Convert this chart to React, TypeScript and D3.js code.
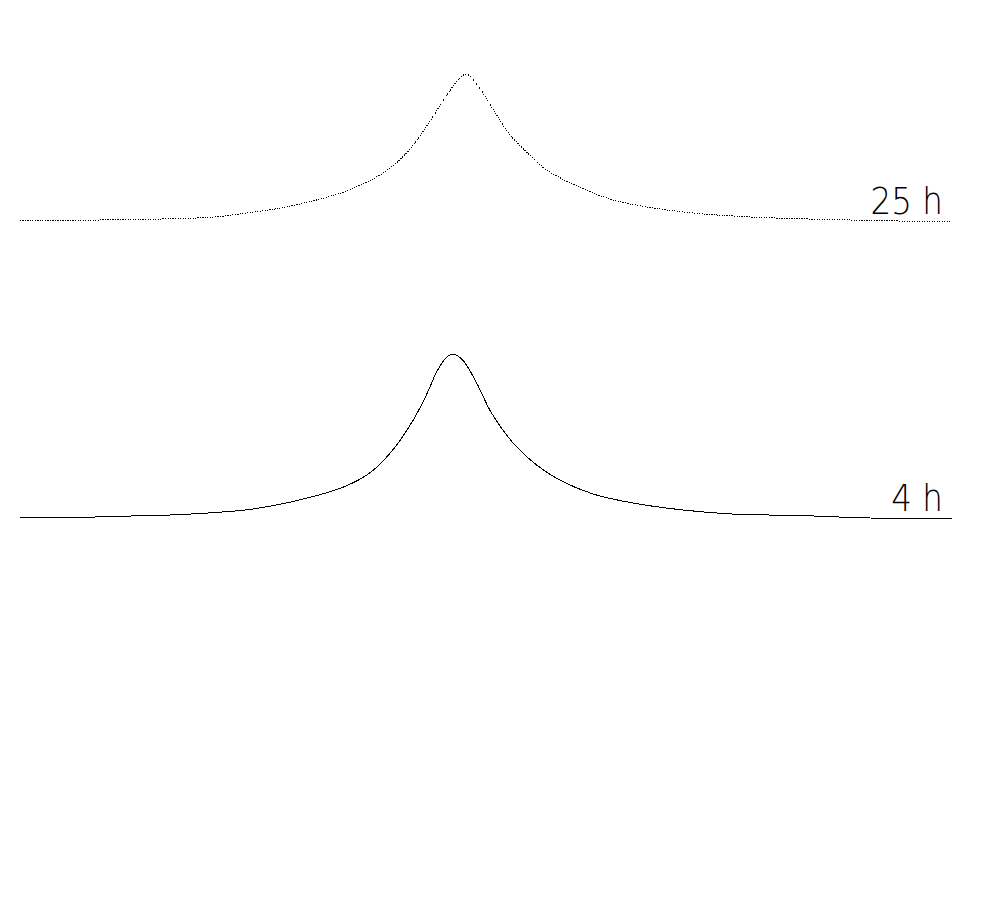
import { useEffect, useRef } from 'react';
import * as d3 from 'd3';

// position along the scan (0..100) and intensity (peak of 4 h = 1)
const pos4h = [0, 5.7, 11.8, 17.2, 25.0, 31.4, 35.1, 37.6, 40.0, 42.2, 43.7, 44.7, 45.8, 46.5, 47.5, 49.0, 50.4, 51.8, 53.3, 55.5, 57.9, 61.5, 65.8, 71.1, 76.5, 83.7, 91.2, 100];
const int4h = [0, 0.003, 0.012, 0.021, 0.055, 0.13, 0.198, 0.278, 0.415, 0.598, 0.762, 0.89, 0.982, 1.0, 0.963, 0.823, 0.659, 0.537, 0.433, 0.32, 0.232, 0.146, 0.091, 0.049, 0.024, 0.015, 0.0, -0.003];

const pos25h = [0, 8.6, 17.2, 20.7, 24.4, 27.9, 31.4, 35.1, 37.2, 38.6, 40.5, 42.2, 44.0, 45.8, 47.2, 47.9, 49.0, 50.8, 52.6, 54.7, 56.5, 59.8, 63.3, 67.3, 72.2, 78.6, 89.1, 100];
const int25h = [0, 0.006, 0.015, 0.024, 0.049, 0.079, 0.122, 0.183, 0.238, 0.28, 0.36, 0.463, 0.61, 0.768, 0.872, 0.896, 0.835, 0.677, 0.524, 0.402, 0.311, 0.213, 0.134, 0.085, 0.049, 0.024, 0.006, -0.006];

const labels = ['25 h', '4 h'];
const offsets = [1.811, 0]; // vertical stacking offset, intensity units

const App = () => {
    const svgRef = useRef<SVGSVGElement | null>(null);

    useEffect(() => {
        const width = 982;
        const height = 902;

        const svg = d3.select(svgRef.current);
        svg.selectAll('*').remove();
        svg.attr('width', width).attr('height', height);

        const x = d3.scaleLinear().domain([0, 100]).range([20, 952]);
        const y = d3.scaleLinear().domain([0, 1]).range([518, 354]);

        const series = [
            { pos: pos25h, val: int25h, label: labels[0], off: offsets[0], dash: '1.2 1.3' },
            { pos: pos4h, val: int4h, label: labels[1], off: offsets[1], dash: null },
        ];

        series.forEach((s) => {
            const pts = s.pos.map((p, i) => [p, s.val[i] + s.off] as [number, number]);

            const line = d3.line<[number, number]>()
                .x(d => x(d[0]))
                .y(d => y(d[1]))
                .curve(d3.curveCatmullRom.alpha(0.5));

            svg.append('path')
                .attr('d', line(pts))
                .attr('fill', 'none')
                .attr('stroke', '#000')
                .attr('stroke-width', 1)
                .attr('shape-rendering', 'crispEdges')
                .attr('stroke-dasharray', s.dash);

            svg.append('text')
                .attr('x', 943)
                .attr('y', y(s.off) - 7)
                .attr('text-anchor', 'end')
                .attr('font-family', 'DejaVu Sans, sans-serif')
                .attr('font-weight', 200)
                .attr('font-size', 37)
                .attr('transform', `translate(943,0) scale(0.88,1) translate(-943,0)`)
                .attr('fill', '#000')
                .text(s.label);
        });
    }, []);

    return (
        <svg ref={svgRef} style={{ position: 'absolute', left: 0, top: 0, background: '#fff' }}></svg>
    );
};

export default App;
